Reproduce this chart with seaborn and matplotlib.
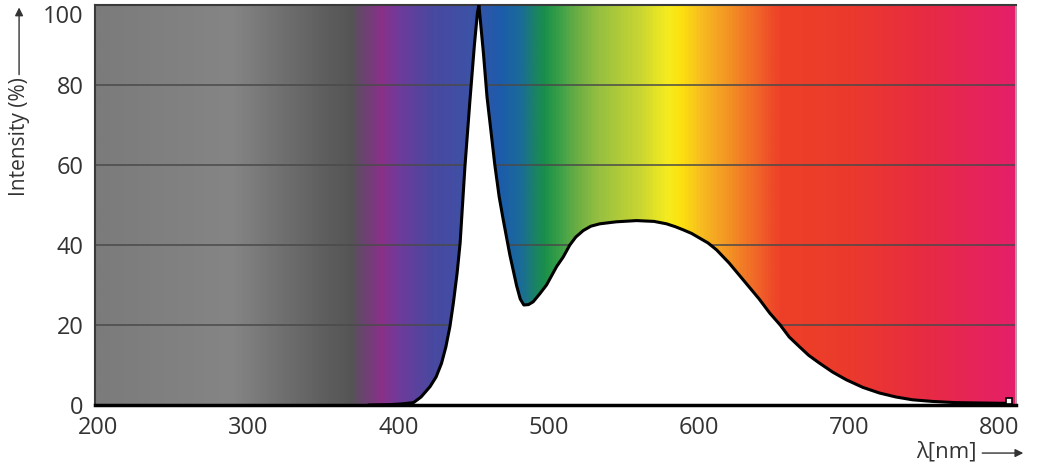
# Imports

import seaborn           as sns
import numpy             as np
import pandas            as pd
import matplotlib.pyplot as plt
from matplotlib.colors   import LinearSegmentedColormap
from matplotlib.patches  import FancyArrowPatch

#####

# Spectrum

wavelength = [380, 395, 403, 410, 415, 421, 425, 428.6, 431.5, 434.2, 436.5, 439, 441,
              444.2, 447.5, 450.5, 452.5, 453.5, 455, 456.5, 458.9, 461.5, 464.1,
              467, 469.7, 474.1, 478.6, 481, 483.4, 486.5, 489.6, 494, 498.5, 505.2,
              509.6, 514, 518, 522.9, 528, 534, 545, 558.4, 570, 578.3, 584, 589.4,
              595, 600.5, 606, 611.6, 620, 630, 640, 647, 654, 660, 667, 673, 680,
              689, 698, 709, 720, 731, 742, 755, 770, 787, 806]
intensity  = [0, 0.1, 0.3, 0.6, 2, 4.6, 7, 10.4, 14.5, 19.6, 25.5, 33, 40.5,
              59.6, 76, 90, 98, 100, 94, 88, 77, 68.5, 60,
              52, 46.3, 37.5, 29.8, 26.5, 25, 25.1, 25.8, 27.8, 30, 34.6,
              37, 40, 42, 43.6, 44.7, 45.3, 45.8, 46.1, 45.9, 45.3, 44.6, 43.8,
              42.9, 41.7, 40.5, 38.8, 35.5, 31, 26.5, 23, 20, 17, 14.5, 12.4, 10.5,
              8.2, 6.3, 4.4, 3, 2, 1.3, 0.9, 0.6, 0.5, 0.4]

# Background colour band (wavelength, colour)

band_nm     = [198, 288, 321, 350, 368, 376, 388, 401, 421, 448, 468, 481, 497,
               507, 520, 534, 561, 579, 589, 600, 620, 640, 654, 700, 747, 811]
band_colors = ["#7b7b7b", "#858585", "#707070", "#5e5e5e", "#555555", "#6a4470",
               "#8a3088", "#6c3c9c", "#4a48a0", "#3c52a6", "#1c5cab", "#1a6c98",
               "#1a9048", "#3aa048", "#70b044", "#98c040", "#cad632", "#f6ec1e",
               "#fde00f", "#f8c020", "#f39324", "#f06228", "#ee4028", "#eb3a2c",
               "#e82c40", "#e51f6a"]

x_ticks = [200, 300, 400, 500, 600, 700, 800]
y_ticks = [0, 20, 40, 60, 80, 100]

#####

sns.set_theme(style = "white")
plt.rcParams["font.family"] = ["Open Sans", "DejaVu Sans"]

spectrum = pd.DataFrame({"wavelength": wavelength, "intensity": intensity})

fig = plt.figure(figsize = (10.6, 4.69), dpi = 100, facecolor = "white")
ax  = fig.add_axes([0.0896, 0.1365, 0.869, 0.8528])

# Rainbow background
x0, x1 = band_nm[0], band_nm[-1]
pos    = [(b - x0) / (x1 - x0) for b in band_nm]
cmap   = LinearSegmentedColormap.from_list("band", list(zip(pos, band_colors)))
ax.imshow(np.linspace(0, 1, 800)[None, :], cmap = cmap, aspect = "auto",
          extent = [x0, x1, 0, 100], zorder = 0, interpolation = "bilinear")

# Grid lines on top of the band
for v in y_ticks[1:-1]:
    ax.axhline(v, color = "#4a4a4a", lw = 1.1, zorder = 1)

# White area under the curve plus the outline
ax.fill_between(spectrum["wavelength"], spectrum["intensity"], 0, color = "white", zorder = 2, lw = 0)
sns.lineplot(data = spectrum, x = "wavelength", y = "intensity", color = "black", lw = 2.2, ax = ax, zorder = 3)
ax.plot(wavelength[-1], 1.0, marker = "s", ms = 5, mfc = "white", mec = "black", mew = 1.2, zorder = 4)

ax.set_xlim(x0, x1)
ax.set_ylim(0, 100)
ax.set_xticks(x_ticks)
ax.set_yticks(y_ticks)
ax.tick_params(axis = "both", labelsize = 17, labelcolor = "#333333", length = 0)
ax.tick_params(axis = "y", pad = 8)
ax.tick_params(axis = "x", pad = 8)
ax.get_yticklabels()[-1].set_verticalalignment("top")
ax.set_xlabel("")
ax.set_ylabel("")

for side in ["left", "top"]:
    ax.spines[side].set_color("#3a3a3a")
    ax.spines[side].set_linewidth(1.5)
ax.spines["bottom"].set_color("black")
ax.spines["bottom"].set_linewidth(2.5)
ax.spines["right"].set_color("#b0b0b0")
ax.spines["right"].set_linewidth(1.2)

# Axis titles with arrows
fig.text(0.018, 0.708, "Intensity (%)", rotation = 90, ha = "center", va = "center",
         fontsize = 15, color = "#333333")
fig.patches.append(FancyArrowPatch((0.018, 0.835), (0.018, 0.99), transform = fig.transFigure,
                                   arrowstyle = "-|>", mutation_scale = 12, color = "#333333", lw = 1))
fig.text(0.921, 0.036, "λ[nm]", ha = "right", va = "center", fontsize = 16, color = "#333333")
fig.patches.append(FancyArrowPatch((0.924, 0.034), (0.968, 0.034), transform = fig.transFigure,
                                   arrowstyle = "-|>", mutation_scale = 12, color = "#333333", lw = 1))

plt.savefig("out.png", dpi = 100, facecolor = "white")
